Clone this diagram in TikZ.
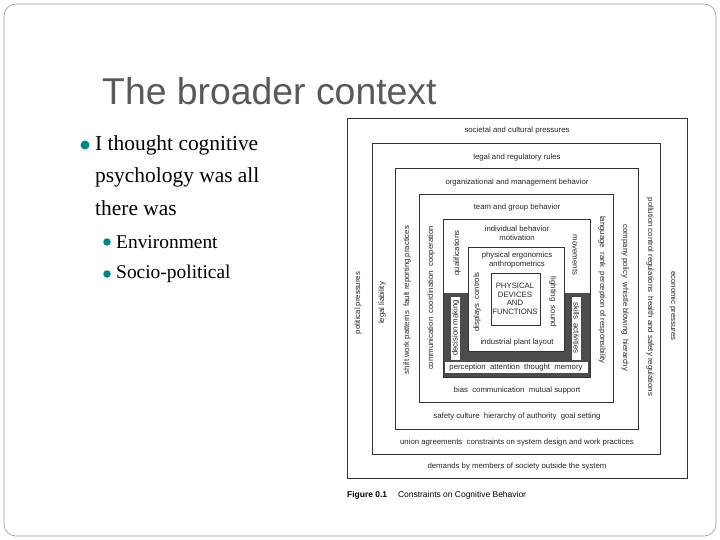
\documentclass[tikz,border=0pt]{standalone}
\usepackage{fontspec}
\setmainfont{Liberation Serif}
\setsansfont{Liberation Sans}
\begin{document}
\begin{tikzpicture}[x=1bp,y=-1bp,
  bx/.style={draw=black!80,line width=0.8bp},
  lb/.style={font=\fontsize{7.8}{8.5}\sffamily,text=black!85,inner sep=0.3bp},
  bul/.style={circle,fill=teal!70!cyan!80!black,inner sep=0,minimum size=9bp},
  sbul/.style={circle,fill=teal!70!cyan!80!black,inner sep=0,minimum size=7.5bp}]
\useasboundingbox (0,0) rectangle (720,540);
\draw[rounded corners=12bp,draw=black!40,line width=0.6bp] (4,4) rectangle (716,536);
\node[anchor=west,font=\fontsize{37.5}{40}\sffamily,text=black!65,inner sep=0] (title) at (102,91) {The broader context};
\node[bul] (b1) at (85,145) {};
\node[anchor=west,font=\fontsize{21.5}{32}\selectfont,inner sep=0] (t1a) at (95,145) {I thought cognitive};
\node[anchor=west,font=\fontsize{21.5}{32}\selectfont,inner sep=0] (t1b) at (95,177) {psychology was all};
\node[anchor=west,font=\fontsize{21.5}{32}\selectfont,inner sep=0] (t1c) at (95,208) {there was};
\node[sbul] (b2) at (107,242) {};
\node[anchor=west,font=\fontsize{19.5}{22}\selectfont,inner sep=0] (t2) at (116,242) {Environment};
\node[sbul] (b3) at (107,274) {};
\node[anchor=west,font=\fontsize{19.5}{22}\selectfont,inner sep=0] (t3) at (116,274) {Socio-political};
% boxes
\draw[bx] (347,118) rectangle (687,478);
\draw[bx] (372,143) rectangle (660,454);
\draw[bx] (395,168) rectangle (638,429);
\draw[bx] (419,194) rectangle (613,402);
\fill[black!70] (443,293) rectangle (590,377);
\draw[bx] (443,219) rectangle (590,377);
\draw[bx,fill=white] (468,247) rectangle (564,351);
\draw[bx] (491,273) rectangle (540,325);
\fill[white] (445,362) rectangle (588,373);
\fill[white] (451,297) rectangle (460,360);
\fill[white] (572,297) rectangle (581,360);
% labels
\node[lb] (l1) at (517,130) {societal and cultural pressures};
\node[lb] (l2) at (517,157) {legal and regulatory rules};
\node[lb] (l3) at (517,182) {organizational and management behavior};
\node[lb] (l4) at (517,207) {team and group behavior};
\node[lb,align=center] (l5) at (517,233) {individual behavior\\motivation};
\node[lb,align=center] (l6) at (517,260) {physical ergonomics\\anthropometrics};
\node[lb,align=center] (l7) at (515,299) {PHYSICAL\\DEVICES\\AND\\FUNCTIONS};
\node[lb] (l8) at (517,342) {industrial plant layout};
\node[lb,rotate=90] (l9) at (477,302) {displays\ \ controls};
\node[lb,rotate=-90] (l10) at (553,302) {lighting\ \ sound};
\node[lb,rotate=90] (l11) at (455.5,328) {decision making};
\node[lb,rotate=90] (l12) at (457,253) {qualifications};
\node[lb,rotate=-90] (l13) at (575,255) {movements};
\node[lb,rotate=-90] (l14) at (576.5,328) {skills\ \ activities};
\node[lb] (l15) at (516,367.5) {perception\ \ attention\ \ thought\ \ memory};
\node[lb] (l16) at (517,390) {bias\ \ communication\ \ mutual support};
\node[lb] (l17) at (517,416) {safety culture\ \ hierarchy of authority\ \ goal setting};
\node[lb] (l18) at (517,442) {union agreements\ \ constraints on system design and work practices};
\node[lb] (l19) at (517,466) {demands by members of society outside the system};
\node[lb,rotate=90] (l20) at (431,298) {communication\ \ coordination\ \ cooperation};
\node[lb,rotate=90] (l21) at (407,300) {shift work patterns\ \ fault reporting practices};
\node[lb,rotate=90] (l22) at (382,303) {legal liability};
\node[lb,rotate=90] (l23) at (358,303) {political pressures};
\node[lb,rotate=-90] (l24) at (602,290) {language\ \ rank\ \ perception of responsibility};
\node[lb,rotate=-90] (l25) at (625,298) {company policy\ \ whistle blowing\ \ hierarchy};
\node[lb,rotate=-90] (l26) at (650,297) {pollution control regulations\ \ health and safety regulations};
\node[lb,rotate=-90] (l27) at (673,306) {economic pressures};
\node[anchor=west,font=\fontsize{8.5}{9}\sffamily,inner sep=0] (cap) at (347,495) {\textbf{Figure 0.1}\quad\ Constraints on Cognitive Behavior};
\end{tikzpicture}
\end{document}
